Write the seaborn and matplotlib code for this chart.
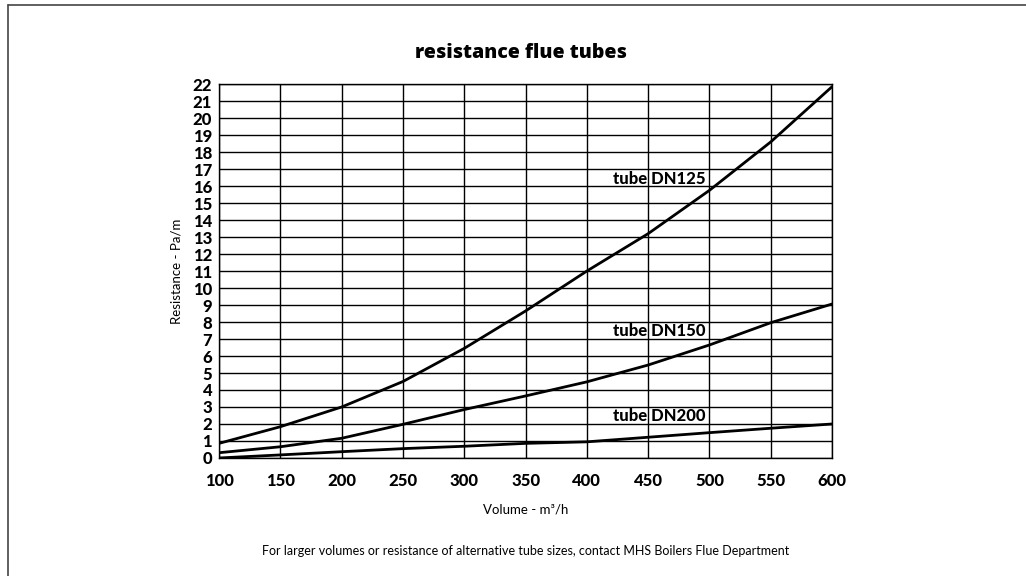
import seaborn as sns
import pandas as pd
import numpy as np
from matplotlib import pyplot as plt
from matplotlib.lines import Line2D

sns.set_theme(style="white")
plt.rcParams["font.family"] = ["Lato", "DejaVu Sans"]

VOLUME = [100, 150, 200, 250, 300, 350, 400, 450, 500, 550, 600]
DN125 = [0.86, 1.84, 3.0, 4.5, 6.45, 8.65, 11.0, 13.2, 15.75, 18.6, 21.85]
DN150 = [0.31, 0.66, 1.16, 1.98, 2.85, 3.65, 4.48, 5.47, 6.65, 7.96, 9.06]
DN200 = [0.0, 0.18, 0.37, 0.55, 0.69, 0.86, 0.95, 1.22, 1.49, 1.75, 2.0]

LABELS = ["tube DN125", "tube DN150", "tube DN200"]
LABEL_POS = [(497, 16.4), (497, 7.5), (497, 2.47)]


def build_frame():
    """Long table of all three tube curves."""
    parts = []
    for name, vals in zip(LABELS, [DN125, DN150, DN200]):
        parts.append(pd.DataFrame({"volume": VOLUME, "resistance": vals, "tube": name}))
    return pd.concat(parts, ignore_index=True)


def plot_resistance(df, save_path=None):
    fig = plt.figure(figsize=(10.26, 5.76), dpi=100)
    ax = fig.add_axes([0.2135, 0.2049, 0.811 - 0.2135, 0.854 - 0.2049])

    sns.lineplot(data=df, x="volume", y="resistance", units="tube", estimator=None,
                 color="black", linewidth=2, ax=ax, legend=False)

    ax.set_xlim(100, 600)
    ax.set_ylim(0, 22)
    ax.set_xticks(VOLUME)
    ax.set_yticks(range(0, 23))
    ax.grid(True, color="black", linewidth=1)
    ax.set_axisbelow(True)
    for s in ax.spines.values():
        s.set_color("black")
        s.set_linewidth(1)
    ax.tick_params(axis="both", length=0, labelsize=12, colors="black")
    ax.tick_params(axis="x", pad=11)
    ax.tick_params(axis="y", pad=5)
    for lab in ax.get_xticklabels() + ax.get_yticklabels():
        lab.set_fontweight("black")

    ax.set_xlabel("Volume - m³/h", fontsize=9.5, color="black", labelpad=10)
    ax.set_ylabel("Resistance - Pa/m", fontsize=9.5, color="black", labelpad=7)
    ax.set_title("resistance flue tubes", fontsize=14, fontweight="heavy",
                 family=["Open Sans", "DejaVu Sans"], color="black", pad=19, x=0.492)

    for name, (x, y) in zip(LABELS, LABEL_POS):
        ax.text(x, y, name, ha="right", va="center", fontsize=12,
                fontweight="black", color="black")

    fig.text(0.512, 0.043, "For larger volumes or resistance of alternative tube sizes, "
             "contact MHS Boilers Flue Department", ha="center", va="center",
             fontsize=9, color="black")

    # page frame, left and top edges only
    fig.add_artist(Line2D([0.008, 0.008], [0, 0.991], color="#444444", linewidth=1.2))
    fig.add_artist(Line2D([0.008, 1.0], [0.991, 0.991], color="#444444", linewidth=1.2))

    if save_path:
        fig.savefig(save_path, dpi=100)


if __name__ == "__main__":
    plot_resistance(build_frame(), save_path="out.png")
